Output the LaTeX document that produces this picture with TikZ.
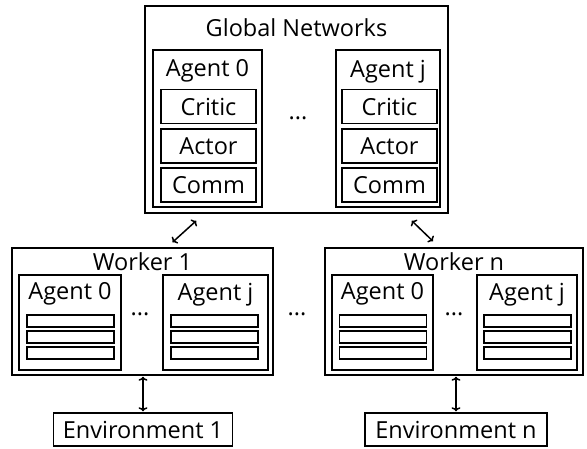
\documentclass[tikz,border=0pt]{standalone}
\usepackage{fontspec}
\setmainfont{Open Sans}
\usetikzlibrary{positioning, arrows.meta}

\begin{document}
\begin{tikzpicture}[x=1pt, y=-1pt, line width=1.5pt,
  every node/.style={font=\fontsize{23.5}{26}\selectfont},
  box/.style={rectangle, draw, inner sep=0pt},
  netbox/.style={box, minimum width=95pt, minimum height=34pt},
  barbox/.style={box, minimum width=87pt, minimum height=12pt, line width=1.3pt},
  link/.style={{To[length=4pt, width=9pt]}-{To[length=4pt, width=9pt]}, line width=1.5pt}]

\useasboundingbox (0,0) rectangle (587,448);

% Global networks with its agents
\node (global) [box, minimum width=303pt, minimum height=207pt, label={[anchor=center, yshift=-22pt]north:Global Networks}] at (296.5,109.5) {};
\node (g_agent0) [box, minimum width=109pt, minimum height=157pt, label={[anchor=center, yshift=-22pt]north:Agent 0}] at (207.5,128.5) {};
\node (g_agentj) [box, minimum width=104pt, minimum height=157pt, label={[anchor=center, yshift=-22pt]north:Agent j}] at (388,128.5) {};
\node (g_dots) at (298,118) {...};

% Networks of agent 0
\node (critic0) [netbox] at (208.5,106.5) {Critic};
\node (actor0) [netbox] at (208.5,146) {Actor};
\node (comm0) [netbox] at (208.5,185) {Comm};

% Networks of agent j
\node (criticj) [netbox] at (389.5,106.5) {Critic};
\node (actorj) [netbox] at (389.5,146) {Actor};
\node (commj) [netbox] at (389.5,185) {Comm};

% Worker 1
\node (worker1) [box, minimum width=261pt, minimum height=127pt, label={[anchor=center, yshift=-14pt]north:Worker 1}] at (142.5,311.5) {};
\node (w1_agent0) [box, minimum width=102pt, minimum height=95pt, label={[anchor=center, yshift=-20pt]north:Agent 0}] at (70,322.5) {};
\node (w1_agentj) [box, minimum width=105pt, minimum height=95pt, label={[anchor=center, yshift=-20pt]north:Agent j}] at (215.5,322.5) {};
\node (w1_dots) at (140,314) {...};

% Bars of worker 1
\node (w1_bar01) [barbox] at (70.5,321) {};
\node (w1_bar02) [barbox] at (70.5,337) {};
\node (w1_bar03) [barbox] at (70.5,353) {};
\node (w1_barj1) [barbox] at (214.5,321) {};
\node (w1_barj2) [barbox] at (214.5,337) {};
\node (w1_barj3) [barbox] at (214.5,353) {};

% Dots between the workers
\node (w_dots) at (297,314) {...};

% Worker n
\node (workern) [box, minimum width=258pt, minimum height=127pt, label={[anchor=center, yshift=-14pt]north:Worker n}] at (454,311.5) {};
\node (wn_agent0) [box, minimum width=101pt, minimum height=95pt, label={[anchor=center, yshift=-20pt]north:Agent 0}] at (382.5,322.5) {};
\node (wn_agentj) [box, minimum width=100pt, minimum height=95pt, label={[anchor=center, yshift=-20pt]north:Agent j}] at (527,322.5) {};
\node (wn_dots) at (454,314) {...};

% Bars of worker n
\node (wn_bar01) [barbox] at (383,321) {};
\node (wn_bar02) [barbox] at (383,337) {};
\node (wn_bar03) [barbox] at (383,353) {};
\node (wn_barj1) [barbox] at (527.5,321) {};
\node (wn_barj2) [barbox] at (527.5,337) {};
\node (wn_barj3) [barbox] at (527.5,353) {};

% Environments
\node (env1) [box, minimum width=179pt, minimum height=33pt] at (143,429.5) {Environment 1};
\node (envn) [box, minimum width=182pt, minimum height=33pt] at (456,429.5) {Environment n};

% Arrows
\draw[link] ([xshift=52pt, yshift=-7pt]global.south west) -- ([xshift=30pt, yshift=5pt]worker1.north);
\draw[link] ([xshift=-37pt, yshift=-7pt]global.south east) -- ([xshift=-21pt, yshift=6pt]workern.north);
\draw[link, shorten >=1pt, shorten <=1pt] (env1.north) -- (env1.north |- worker1.south);
\draw[link, shorten >=1pt, shorten <=1pt] (envn.north) -- (envn.north |- workern.south);

\end{tikzpicture}
\end{document}
